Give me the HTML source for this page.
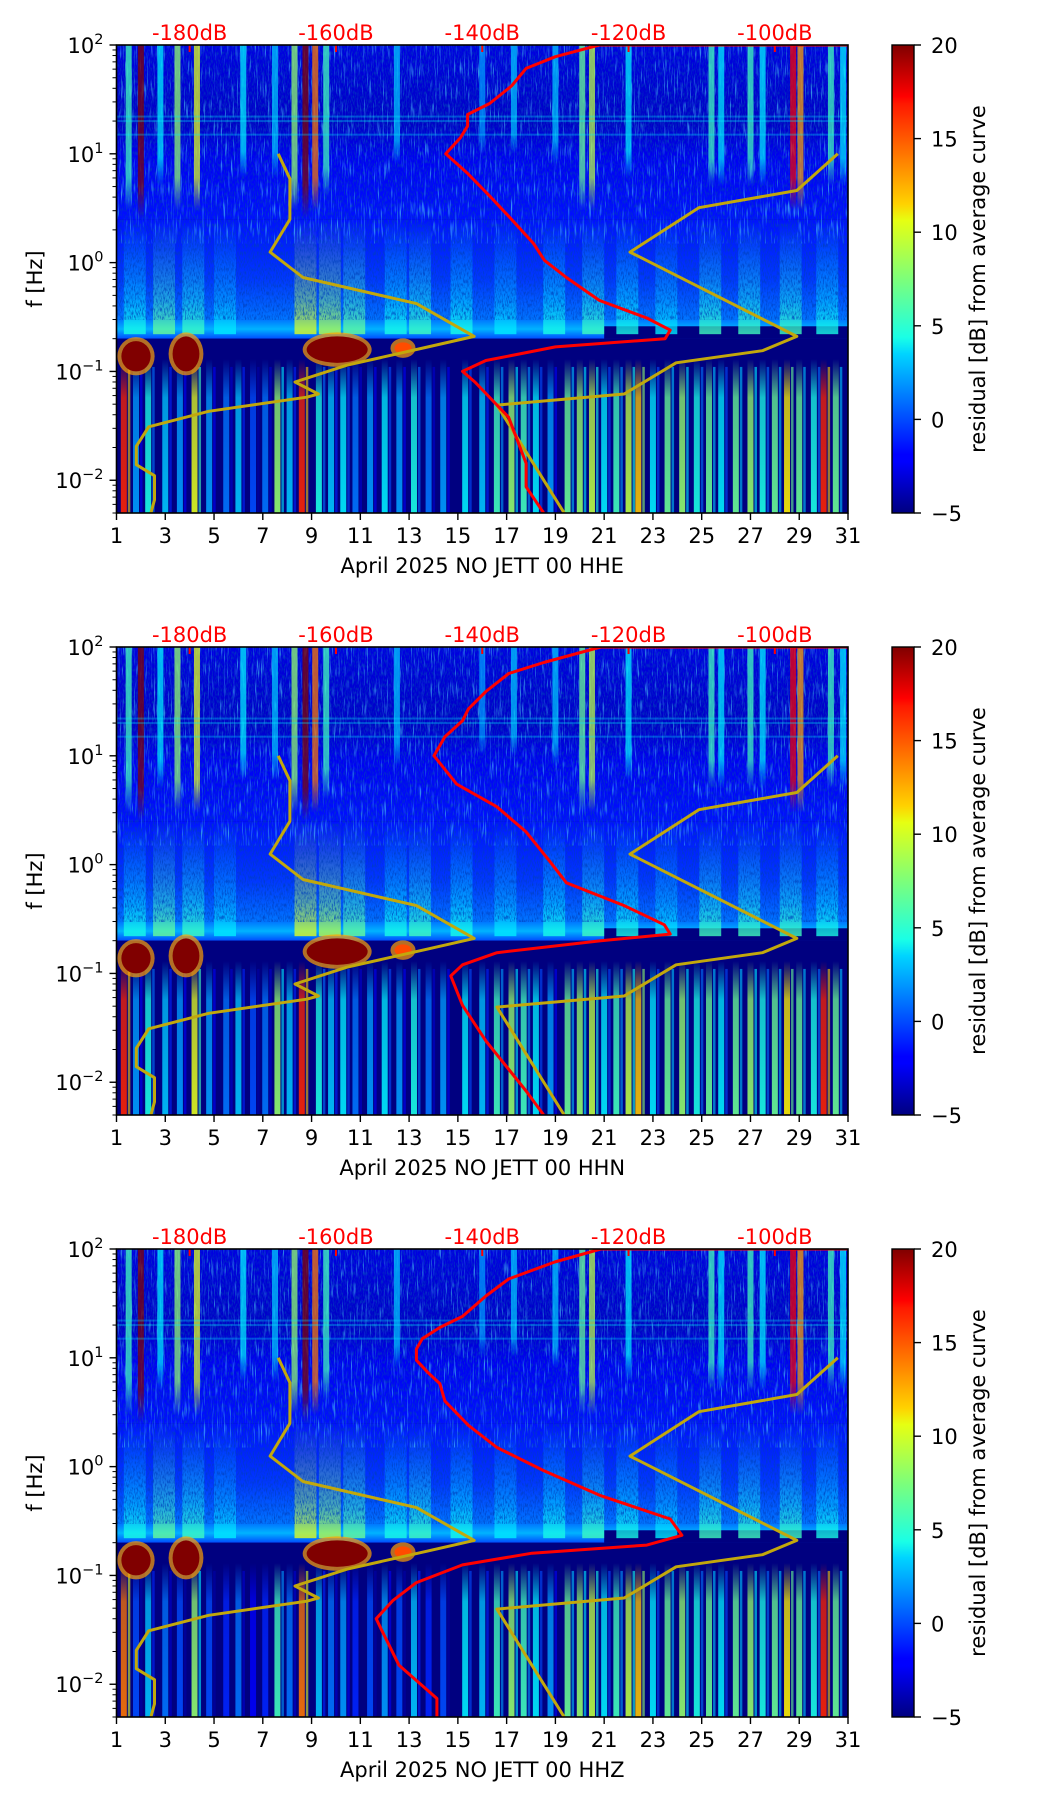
<!DOCTYPE html>
<html><head><meta charset="utf-8"><style>
html,body{margin:0;padding:0;background:#fff;}
svg{display:block;font-family:"DejaVu Sans","Liberation Sans",sans-serif;}
</style></head><body>
<svg id="fig" xmlns="http://www.w3.org/2000/svg" width="1052" height="1806" viewBox="0 0 1052 1806">
<defs>
<filter id="speck" x="0" y="0" width="100%" height="100%">
<feTurbulence type="fractalNoise" baseFrequency="0.9 0.25" numOctaves="2" seed="3"/>
<feColorMatrix type="matrix" values="0 0 0 0 0  0 0 0 0 0.05  0 0 0 0 0.5  0 0 0 -3 1.7"/>
</filter>
<filter id="speck2" x="0" y="0" width="100%" height="100%">
<feTurbulence type="fractalNoise" baseFrequency="0.7 0.05" numOctaves="2" seed="9"/>
<feColorMatrix type="matrix" values="0 0 0 0 0.1  0 0 0 0 0.75  0 0 0 0 1  0 0 0 4 -2.3"/>
</filter>
<linearGradient id="cbar" x1="0" y1="1" x2="0" y2="0">
<stop offset="0" stop-color="#000080"/><stop offset="0.11" stop-color="#0000ff"/><stop offset="0.125" stop-color="#0000ff"/>
<stop offset="0.34" stop-color="#00d4ff"/><stop offset="0.375" stop-color="#1affe6"/><stop offset="0.5" stop-color="#7dff7a"/>
<stop offset="0.625" stop-color="#e6ff12"/><stop offset="0.66" stop-color="#ffd200"/><stop offset="0.875" stop-color="#ff1800"/>
<stop offset="0.89" stop-color="#ff0000"/><stop offset="1" stop-color="#800000"/>
</linearGradient>
</defs>
</svg>
<script>
// ---- data ----
const days=[1,3,5,7,9,11,13,15,17,19,21,23,25,27,29,31];
const dbTicks=[-180,-160,-140,-120,-100];
const cbTicks=[-5,0,5,10,15,20];
const decades=[-2,-1,0,1,2];
const channels=["HHE","HHN","HHZ"];
// low-frequency (<0.12 Hz) vertical stripes: day and residual dB
const lowDays=[1.3,1.8,2.3,3.0,3.6,4.2,4.8,5.5,6.0,6.6,7.1,7.6,8.1,8.6,9.3,9.8,10.3,10.8,11.4,12.0,12.6,13.2,13.8,14.4,15.3,16.0,16.6,17.2,17.7,18.2,18.8,19.5,20.0,20.5,21.0,21.5,22.0,22.4,23.0,23.6,24.2,24.8,25.3,25.8,26.4,27.0,27.5,28.0,28.5,29.0,29.6,30.0,30.5];
const lowVals=[16,2,5,3,2,10,2,1,3,0,1,8,3,16,5,3,4,1,2,4,2,5,1,2,4,3,6,8,6,4,2,7,8,9,4,6,9,12,4,7,8,5,7,4,7,8,5,7,11,7,5,16,7];
// high-frequency vertical columns: day, residual dB, lowest frequency reached
const topDays=[1.5,2.0,2.8,3.5,4.3,6.2,7.5,8.3,8.75,9.15,9.6,12.5,16.0,17.3,19.0,20.1,20.5,22.0,25.4,25.8,27.0,27.5,28.75,29.05,30.3,30.8];
const topVals=[6,20,4,8,10,4,3,8,20,14,6,3,2,3,3,7,9,4,6,4,6,4,17,13,6,4];
const topEnd=[3,2.5,5,3,3,6,6,3,2.5,3,4,8,10,10,8,3,3,6,5,5,5,5,3,3,5,5];
// microseism plumes (0.25–3 Hz): day, residual dB
const plumeDays=[1.8,3.0,4.2,5.5,8.8,9.8,10.8,12.5,13.5,15.2,17.0,19.0,20.6,22.0,23.6,25.4,27.0,28.7,30.2];
const plumeVals=[4,6,5,3,9,8,6,4,5,4,3,4,5,4,3,5,5,5,4];
// red blobs: [day0, day1, fLow, fHigh]
const blobD0=[1.2,3.3,8.8,12.4];
const blobD1=[2.4,4.4,11.3,13.1];
const blobF0=[0.1,0.1,0.12,0.145];
const blobF1=[0.19,0.21,0.21,0.185];
// average / model curves (same in all panels)
const loF=[10,5.9,2.5,1.25,0.73,0.42,0.21,0.168,0.114,0.08,0.062,0.058,0.043,0.031,0.0205,0.0139,0.011,0.0066,0.005];
const loDb=[-167.9,-166.3,-166.3,-169,-164.5,-149,-141.1,-147.4,-158.5,-165.6,-162.4,-164,-177.4,-185.6,-187.3,-187.3,-184.8,-184.8,-185.3];
const hiF=[10,4.6,3.2,1.25,0.21,0.155,0.12,0.062,0.049,0.005];
const hiDb=[-91.4,-97,-110.4,-119.8,-97,-101.7,-113.5,-120.6,-138,-128.8];
// red current curves per panel
const redF1=[100,100,78,61,42,29,23,18,14,10,6.6,4.1,2.5,1.5,1.05,0.73,0.45,0.31,0.24,0.2,0.168,0.126,0.1,0.08,0.038,0.0143,0.0087,0.005];
const redDb1=[-90,-124,-130,-134,-136,-139,-142,-142,-143,-145,-142,-139,-136,-133,-131.5,-128.5,-124,-117.5,-114.3,-115,-130,-139.5,-142.7,-141,-136.4,-134,-134,-131.6];
const redF2=[100,100,72,57,39,27,21,15,10,5.5,3.4,2.0,1.1,0.68,0.42,0.28,0.23,0.2,0.155,0.12,0.095,0.051,0.024,0.0083,0.005];
const redDb2=[-90,-123.8,-131.6,-136.4,-139.5,-141.9,-142.7,-145.1,-146.6,-143.5,-138,-134,-130.9,-128.5,-120.6,-115.1,-114.3,-123.8,-138,-142.7,-144.3,-142.7,-139.5,-134,-131.6];
const redF3=[100,100,76,53,37,24,19,15,12,9.5,7.3,5.8,4,2.4,1.5,0.92,0.54,0.33,0.234,0.19,0.16,0.125,0.086,0.059,0.04,0.031,0.015,0.0074,0.005];
const redDb3=[-90,-123.8,-130.1,-136.4,-139.5,-142.7,-145.8,-148.2,-149,-149,-147.4,-145.8,-145.1,-141.9,-138,-131.6,-123.8,-114.3,-112.7,-117.5,-133.2,-142.7,-149,-152.2,-154.5,-153.7,-151.4,-146.2,-146.2];
const redF=[redF1,redF2,redF3], redDb=[redDb1,redDb2,redDb3];

// ---- geometry ----
const NS='http://www.w3.org/2000/svg';
const svg=document.getElementById('fig');
const defs=svg.querySelector('defs');
const L=116.5,W=731.5,H=468,TOPS=[45,647,1249];
const FMIN=0.005,FMAX=100;
const CBX=892,CBW=22;
function xDay(d){return L+(d-1)/30*W;}
function xDb(db){return L+(db+190)/100*W;}
function yF(T,f){return T+(Math.log10(FMAX)-Math.log10(f))/(Math.log10(FMAX)-Math.log10(FMIN))*H;}
function cl(v){return Math.max(0,Math.min(1,v));}
function jet(v){const t=cl((v+5)/25);const r=cl(1.5-Math.abs(4*t-3)),g=cl(1.5-Math.abs(4*t-2)),b=cl(1.5-Math.abs(4*t-1));
 return 'rgb('+Math.round(r*255)+','+Math.round(g*255)+','+Math.round(b*255)+')';}
function el(tag,attrs,parent){const e=document.createElementNS(NS,tag);for(const k in attrs)e.setAttribute(k,attrs[k]);(parent||svg).appendChild(e);return e;}
let gid=0;
function vgrad(stops){const id='g'+(gid++);const g=el('linearGradient',{id:id,x1:0,y1:0,x2:0,y2:1},defs);
 stops.forEach(s=>el('stop',{offset:s[0],'stop-color':s[1],'stop-opacity':s[2]},g));return 'url(#'+id+')';}

TOPS.forEach((T,p)=>{
 const B=T+H;
 const g=el('g',{});
 
 
 const cp=el('clipPath',{id:'clip'+p},defs);el('rect',{x:L,y:T,width:W,height:H},cp);
 const sg=el('g',{'clip-path':'url(#clip'+p+')'},g);
 
 
 // base layers
 el('rect',{x:L,y:T,width:W,height:H,fill:'#000080'},sg);
 el('rect',{x:L,y:T,width:W,height:yF(T,2.5)-T,fill:vgrad([[0,jet(-2.6),1],[0.45,jet(-3.3),1],[0.65,jet(-2.2),1],[1,jet(-1.5),1]])},sg);
 el('rect',{x:L,y:yF(T,2.5),width:W,height:yF(T,0.3)-yF(T,2.5),fill:vgrad([[0,jet(-1.5),1],[0.6,jet(-0.5),1],[1,jet(1),1]])},sg);
 el('rect',{x:L,y:yF(T,0.3),width:W,height:yF(T,0.2)-yF(T,0.3),fill:vgrad([[0,jet(1),1],[0.5,jet(2.5),1],[1,jet(0),1]])},sg);
 el('rect',{x:xDay(21),y:yF(T,0.26),width:xDay(31)-xDay(21),height:yF(T,0.2)-yF(T,0.26),fill:'#000080'},sg);
 el('rect',{x:L,y:yF(T,0.2),width:W,height:yF(T,0.12)-yF(T,0.2),fill:'#000080'},sg);
 // plumes
 plumeDays.forEach((d,i)=>{
  const r=el('rect',{x:xDay(d-0.5),y:yF(T,2.5),width:xDay(1.9)-xDay(1),height:yF(T,0.22)-yF(T,2.5),fill:vgrad([[0,jet(plumeVals[i]),0],[0.7,jet(plumeVals[i]),0.45],[1,jet(plumeVals[i]+1),0.8]])},sg);
  
  
 });
 // low stripes
 lowDays.forEach((d,i)=>{
  const v=lowVals[i]-(p===2&&d<15?2:0);
  const r=el('rect',{x:xDay(d)-3,y:yF(T,0.13),width:6,height:B-yF(T,0.13),fill:vgrad([[0,jet(v),0],[0.25,jet(v),0.75],[1,jet(v),0.9]])},sg);
  
  
  el('rect',{x:xDay(d)+4,y:yF(T,0.11),width:2.5,height:B-yF(T,0.11),fill:jet(v-4),opacity:0.6},sg);
 });
 // speckle noise over upper part
 el('rect',{x:L,y:T,width:W,height:yF(T,0.3)-T,filter:'url(#speck)',opacity:0.75},sg);
 el('rect',{x:L,y:T,width:W,height:yF(T,1.5)-T,filter:'url(#speck2)',opacity:0.6},sg);
 // high-frequency columns
 topDays.forEach((d,i)=>{
  const r=el('rect',{x:xDay(d)-3,y:T,width:6,height:yF(T,topEnd[i])-T,fill:vgrad([[0,jet(topVals[i]),0.75],[0.8,jet(topVals[i]),0.7],[1,jet(topVals[i]),0]])},sg);
  
  
 });
 // horizontal line artifacts
 [22,20,15].forEach(f=>el('rect',{x:L,y:yF(T,f)-1,width:W,height:2,fill:jet(4),opacity:0.3},sg));
 // blobs
 blobD0.forEach((d0,i)=>{
  const x0=xDay(d0),x1=xDay(blobD1[i]),y0=yF(T,blobF1[i]),y1=yF(T,blobF0[i]);
  const cx=(x0+x1)/2,cy=(y0+y1)/2;
  el('ellipse',{cx:cx,cy:cy,rx:(x1-x0)/2+4,ry:(y1-y0)/2+4,fill:jet(13),opacity:0.7},sg);
  const b=el('ellipse',{cx:cx,cy:cy,rx:(x1-x0)/2,ry:(y1-y0)/2,fill:jet(i===3?15:20)},sg);
  
  
 });
 // curves
 function line(fs,dbs,color,name){
  const pts=fs.map((f,i)=>xDb(dbs[i]).toFixed(1)+','+yF(T,f).toFixed(1)).join(' ');
  const pl=el('polyline',{points:pts,fill:'none',stroke:color,'stroke-width':3,'stroke-linejoin':'round'},sg);
  
  
 }
 line(loF,loDb,'#c2a80c','low-noise-model-curve');
 line(hiF,hiDb,'#c2a80c','high-noise-model-curve');
 line(redF[p],redDb[p],'#ff0000','average-psd-curve');
 // red top ticks
 dbTicks.forEach(db=>el('line',{x1:xDb(db),y1:T,x2:xDb(db),y2:T+7,stroke:'#ff0000','stroke-width':2},g));
 // spine
 const sp=el('rect',{x:L,y:T,width:W,height:H,fill:'none',stroke:'#000','stroke-width':1.6},g);
 
 
 // x ticks
 days.forEach(d=>{
  el('line',{x1:xDay(d),y1:B,x2:xDay(d),y2:B+7,stroke:'#000','stroke-width':1.4},g);
  const t=el('text',{x:xDay(d),y:B+30,'font-size':21,'text-anchor':'middle',fill:'#000'},g);t.textContent=d;
  
  
 });
 const xl=el('text',{x:L+W/2,y:B+60,'font-size':21,'text-anchor':'middle',fill:'#000'},g);
 xl.textContent='April 2025 NO JETT 00 '+channels[p];
 
 
 // top dB labels
 dbTicks.forEach(db=>{
  const t=el('text',{x:xDb(db),y:T-5,'font-size':21,'text-anchor':'middle',fill:'#ff0000'},g);t.textContent=db+'dB';
  
  
 });
 // y ticks
 decades.forEach(e=>{
  const y=yF(T,Math.pow(10,e));
  el('line',{x1:L-7,y1:y,x2:L,y2:y,stroke:'#000','stroke-width':1.4},g);
  const t=el('text',{x:L-13,y:y+8,'font-size':21,'text-anchor':'end',fill:'#000'},g);
  const a=el('tspan',{},t);a.textContent='10';
  const s=el('tspan',{'font-size':14.5,dy:-9},t);s.textContent=(e<0?'\u2212':'')+Math.abs(e);
  
  
  if(e<2){for(let m=2;m<=9;m++){const f=m*Math.pow(10,e);const ym=yF(T,f);el('line',{x1:L-4,y1:ym,x2:L,y2:ym,stroke:'#000','stroke-width':1},g);}}
 });
 [5,6,7,8,9].forEach(m=>{const ym=yF(T,m*0.001);if(ym<=B)el('line',{x1:L-4,y1:ym,x2:L,y2:ym,stroke:'#000','stroke-width':1},g);});
 const yl=el('text',{x:0,y:0,'font-size':21,'text-anchor':'middle',fill:'#000',transform:'translate(42,'+(T+H/2)+') rotate(-90)'},g);
 yl.textContent='f [Hz]';
 
 
 // colorbar
 const cb=el('rect',{x:CBX,y:T,width:CBW,height:H,fill:'url(#cbar)',stroke:'#000','stroke-width':1.4},g);
 
 
 cbTicks.forEach(v=>{
  const y=B-(v+5)/25*H;
  el('line',{x1:CBX+CBW,y1:y,x2:CBX+CBW+7,y2:y,stroke:'#000','stroke-width':1.4},g);
  const t=el('text',{x:CBX+CBW+17,y:y+8,'font-size':21,fill:'#000'},g);t.textContent=(v<0?'\u2212':'')+Math.abs(v);
  
  
 });
 const cl2=el('text',{x:0,y:0,'font-size':21,'text-anchor':'middle',fill:'#000',transform:'translate(985,'+(T+H/2)+') rotate(-90)'},g);
 cl2.textContent='residual [dB] from average curve';
 
 
});
</script>
</body></html>
